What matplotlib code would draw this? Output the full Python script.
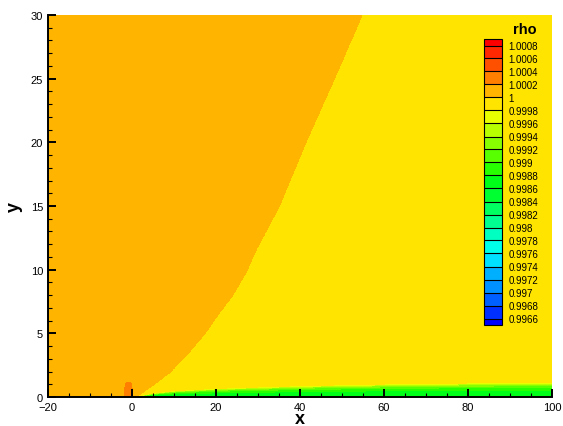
import numpy as np
import matplotlib
matplotlib.use('Agg')
import matplotlib.pyplot as plt
from matplotlib.ticker import MultipleLocator

plt.rcParams['font.family'] = ['Liberation Sans', 'DejaVu Sans']

# ---- data ----
# edge between the 1.0000-1.0002 region (left) and the 0.9998-1.0000 region (right)
shock_y = [0, 0.9, 1.9, 3.5, 5.1, 6.6, 8.0, 9.8, 11.6, 15, 20, 25, 30]
shock_x = [0.9, 4.9, 8.9, 13.6, 17.6, 20.8, 24.0, 27.2, 29.6, 35.1, 41.4, 48.2, 54.8]
rho_upstream = 1.0001
rho_downstream = 0.9999

# wall layer: top of the green layer and the wall value along x
layer_x = [0, 5, 10, 20, 40, 60, 80, 100]
layer_top = [0, 0.31, 0.5, 0.68, 0.89, 1.02, 1.1, 1.15]
wall_x = [0, 1, 3, 5, 100]
wall_rho = [0.9999, 0.9995, 0.9989, 0.99868, 0.99868]

# small spike near the leading edge
spike_x = -0.85
spike_halfwidth = 0.95
spike_height = 1.15
spike_amp = 0.00028

# legend levels and colours (lowest band first)
level_ticks = [0.9966, 0.9968, 0.9970, 0.9972, 0.9974, 0.9976, 0.9978, 0.9980,
               0.9982, 0.9984, 0.9986, 0.9988, 0.9990, 0.9992, 0.9994, 0.9996,
               0.9998, 1.0000, 1.0002, 1.0004, 1.0006, 1.0008]
band_colors = ['#0000FF', '#0030FF', '#0060FF', '#0090FF', '#00B0FF', '#00E0FF',
               '#00FFE8', '#00FFC0', '#00FF90', '#00FF60', '#00FF30', '#00FF18',
               '#28FF00', '#58FF00', '#88FF00', '#B8FF00', '#E8FF00', '#FFE400',
               '#FFB400', '#FF8000', '#FF5000', '#FF2800', '#FF0000']

# ---- build the field ----
x = np.linspace(-20, 100, 1201)
y = np.concatenate([np.linspace(0, 2, 201), np.linspace(2.02, 30, 1400)])
X, Y = np.meshgrid(x, y)

xb = np.interp(Y, shock_y, shock_x)
outer = np.where(X < xb, rho_upstream, rho_downstream)

d = np.interp(X, layer_x, layer_top) / 0.972
rw = np.interp(X, wall_x, wall_rho)
eta = Y / np.maximum(d, 1e-9)
bl = np.where((X > 0) & (eta < 1), rw + (rho_downstream - rw) * eta ** 3, np.inf)
rho = np.minimum(outer, bl)

thr = np.log(spike_amp / 0.0001)
w = spike_halfwidth / thr ** 0.25
h = spike_height / np.sqrt(thr)
s = ((X - spike_x) / w) ** 4 + (Y / h) ** 2
rho = rho + spike_amp * np.exp(-s) * (X < xb)

levels = [level_ticks[0] - 0.0001] + level_ticks + [level_ticks[-1] + 0.0001]

# ---- plot ----
fig = plt.figure(figsize=(5.63, 4.27), dpi=100)
ax = fig.add_axes([48 / 563, 1 - 398 / 427, 504 / 563, 382 / 427])
cs = ax.contourf(X, Y, rho, levels=levels, colors=band_colors)
ax.set_xlim(-20, 100)
ax.set_ylim(0, 30)
ax.set_xticks(np.arange(-20, 101, 20))
ax.set_yticks(np.arange(0, 31, 5))
ax.xaxis.set_minor_locator(MultipleLocator(5))
ax.yaxis.set_minor_locator(MultipleLocator(1))
for sp in ['top', 'right']:
    ax.spines[sp].set_visible(False)
for sp in ['left', 'bottom']:
    ax.spines[sp].set_linewidth(1.4)
ax.tick_params(which='major', direction='in', length=5.5, width=1.4, labelsize=8)
ax.tick_params(which='minor', direction='in', length=3, width=0.8)
ax.tick_params(axis='x', which='major', pad=3.5)
ax.tick_params(axis='y', which='major', pad=3.5)
ax.set_xlabel('x', fontsize=13, fontweight='bold', labelpad=-1)
ax.set_ylabel('y', fontsize=13, fontweight='bold', labelpad=6)

cax = fig.add_axes([484 / 563, 1 - 326 / 427, 17.5 / 563, 286 / 427])
cb = fig.colorbar(cs, cax=cax, spacing='proportional', ticks=level_ticks, drawedges=True)
labels = [('%.4f' % v).rstrip('0').rstrip('.') for v in level_ticks]
cb.ax.set_yticklabels(labels, fontsize=7)
cb.ax.tick_params(length=0, pad=5)
cb.outline.set_linewidth(0.8)
cb.dividers.set_linewidth(0.8)
fig.text(525 / 563, 1 - 30 / 427, 'rho', ha='center', va='center', fontsize=10.5, fontweight='bold')

fig.savefig('out.png', dpi=100)
